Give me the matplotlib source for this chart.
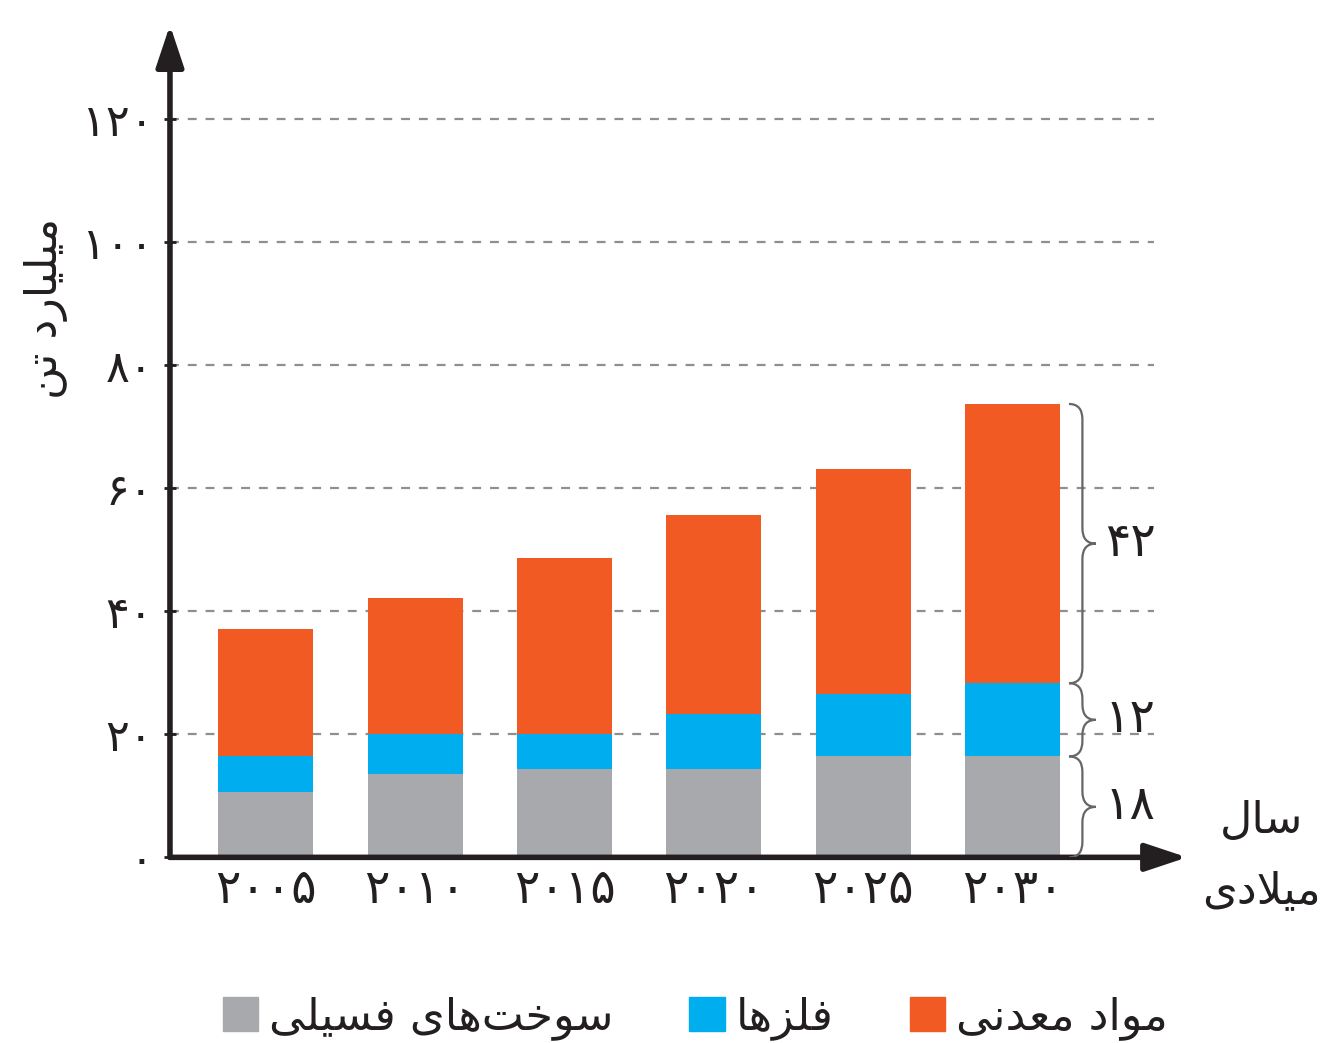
import numpy as np
import matplotlib.pyplot as plt
from matplotlib.path import Path
from matplotlib.patches import PathPatch

plt.rcParams['font.family'] = ['DejaVu Sans']

# data (billion tonnes)
years = ['2005', '2010', '2015', '2020', '2025', '2030']
fossil = [10.7, 13.5, 14.3, 14.3, 16.5, 16.4]
metals = [5.8, 6.5, 5.8, 9.0, 10.1, 11.9]
minerals = [20.7, 22.2, 28.6, 32.4, 36.5, 45.4]
yticks = [0, 20, 40, 60, 80, 100, 120]
brace_labels = ['18', '12', '42']

names = ['سوخت‌های فسیلی', 'فلزها', 'مواد معدنی']
colors = ['#a7a9ac', '#00aeef', '#f15a22']

# minimal arabic/persian shaping (matplotlib has no text shaping)
forms = {
    'ا': ('\uFE8D', '\uFE8E', None, None),
    'ت': ('\uFE95', '\uFE96', '\uFE97', '\uFE98'),
    'خ': ('\uFEA5', '\uFEA6', '\uFEA7', '\uFEA8'),
    'د': ('\uFEA9', '\uFEAA', None, None),
    'ر': ('\uFEAD', '\uFEAE', None, None),
    'ز': ('\uFEAF', '\uFEB0', None, None),
    'س': ('\uFEB1', '\uFEB2', '\uFEB3', '\uFEB4'),
    'ع': ('\uFEC9', '\uFECA', '\uFECB', '\uFECC'),
    'ف': ('\uFED1', '\uFED2', '\uFED3', '\uFED4'),
    'ل': ('\uFEDD', '\uFEDE', '\uFEDF', '\uFEE0'),
    'م': ('\uFEE1', '\uFEE2', '\uFEE3', '\uFEE4'),
    'ن': ('\uFEE5', '\uFEE6', '\uFEE7', '\uFEE8'),
    'ه': ('\uFEE9', '\uFEEA', '\uFEEB', '\uFEEC'),
    'و': ('\uFEED', '\uFEEE', None, None),
    'ی': ('\uFEEF', '\uFEF0', '\uFEF3', '\uFEF4'),
}


def shape(text):
    res = []
    i = 0
    n = len(text)
    while i < n:
        c = text[i]
        if c not in forms:
            if c != '\u200c':
                res.append(c)
            i += 1
            continue
        prev = text[i - 1] if i > 0 else None
        join_prev = prev in forms and forms[prev][2] is not None
        if c == 'ل' and i + 1 < n and text[i + 1] == 'ا':
            res.append('\uFEFC' if join_prev else '\uFEFB')
            i += 2
            continue
        nxt = text[i + 1] if i + 1 < n else None
        join_next = forms[c][2] is not None and nxt in forms
        iso, fin, ini, med = forms[c]
        if join_prev and join_next:
            res.append(med)
        elif join_prev:
            res.append(fin)
        elif join_next:
            res.append(ini)
        else:
            res.append(iso)
        i += 1
    return ''.join(res[::-1])


fa = str.maketrans('0123456789', '۰۱۲۳۴۵۶۷۸۹')

fig = plt.figure(figsize=(13.32, 10.43), dpi=100)
ax = fig.add_axes([0.1276, 0.178, 0.7636, 0.798])

x = np.arange(len(years))
w = 0.636
ink = '#231f20'

# dashed grid
ax.hlines(yticks[1:], -0.64, 5.95, colors='#8f8f8f', lw=1.6,
          linestyles=(0, (4, 4)), zorder=1)

bottom = np.zeros(len(years))
for vals, c in zip([fossil, metals, minerals], colors):
    ax.bar(x, vals, w, bottom=bottom, color=c, zorder=2)
    bottom += np.array(vals)

ax.set_xlim(-0.643, 6.169)
ax.set_ylim(0, 135.3)

for s in ax.spines.values():
    s.set_visible(False)

# axes with arrows
arrow = dict(arrowstyle='-|>,head_length=1.5,head_width=0.5', lw=4,
             color=ink, shrinkA=0, shrinkB=0, mutation_scale=17)
ax.annotate('', xy=(0, 1), xytext=(0, 0), xycoords='axes fraction',
            arrowprops=arrow)
ax.annotate('', xy=(1, 0), xytext=(0, 0), xycoords='axes fraction',
            arrowprops=arrow)

ax.set_yticks(yticks)
ax.set_yticklabels([str(v).translate(fa) for v in yticks], fontsize=32,
                   color=ink)
ax.tick_params(axis='y', direction='inout', length=8, width=2, color=ink,
               pad=8)
ax.set_xticks(x)
ax.set_xticklabels([y.translate(fa) for y in years], fontsize=34, color=ink)
ax.tick_params(axis='x', length=0, pad=8)

ax.set_ylabel(shape('میلیارد تن'), fontsize=32, color=ink, labelpad=12)
ax.yaxis.set_label_coords(-0.1, 0.66)

# braces next to the last bar
def brace(x0, y0, y1, wd):
    ym = (y0 + y1) / 2
    r = min(2.5, (y1 - y0) / 4)
    xm = x0 + wd * 0.5
    verts = [(x0, y0), (xm, y0), (xm, y0 + r),
             (xm, ym - r),
             (xm, ym), (x0 + wd, ym),
             (xm, ym), (xm, ym + r),
             (xm, y1 - r),
             (xm, y1), (x0, y1)]
    codes = [Path.MOVETO, Path.CURVE3, Path.CURVE3,
             Path.LINETO,
             Path.CURVE3, Path.CURVE3,
             Path.CURVE3, Path.CURVE3,
             Path.LINETO,
             Path.CURVE3, Path.CURVE3]
    return PathPatch(Path(verts, codes), fill=False, color='#666666',
                     lw=1.6, zorder=3)


last = len(years) - 1
edges = [0, fossil[last], fossil[last] + metals[last],
         fossil[last] + metals[last] + minerals[last]]
for k, lab in enumerate(brace_labels):
    y0, y1 = edges[k], edges[k + 1]
    ax.add_patch(brace(x[last] + w / 2 + 0.06, y0, y1, 0.18))
    ax.text(x[last] + w / 2 + 0.3, (y0 + y1) / 2, lab.translate(fa),
            fontsize=34, color=ink, ha='left', va='center')

# x axis label
fig.text(0.947, 0.213, shape('سال'), fontsize=32, color=ink,
         ha='center', va='center')
fig.text(0.947, 0.146, shape('میلادی'), fontsize=32, color=ink,
         ha='center', va='center')

# legend
handles = [plt.Rectangle((0, 0), 1, 1, color=c) for c in colors]
fig.legend(handles, [shape(n) for n in names], loc='center',
           bbox_to_anchor=(0.522, 0.024), ncol=3, frameon=False,
           fontsize=32, handlelength=0.8, handleheight=0.8,
           handletextpad=0.25, columnspacing=1.7, labelcolor=ink)

fig.savefig('out.png', dpi=100, facecolor='white')
